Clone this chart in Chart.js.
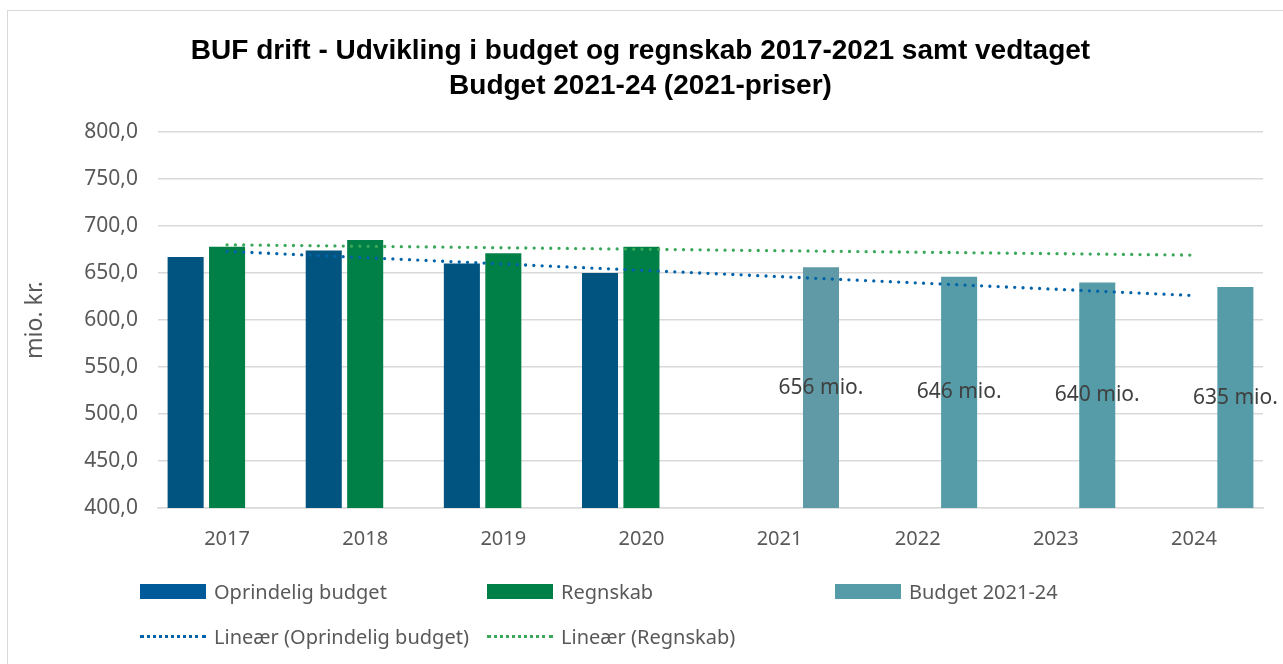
<!DOCTYPE html>
<html lang="da">
<head>
<meta charset="UTF-8">
<title>BUF drift</title>
<script src="https://cdn.jsdelivr.net/npm/chart.js"></script>
<style>
  body { margin: 0; background: #fff; font-family: "Noto Sans", sans-serif; }
  .wrap { position: relative; width: 1283px; height: 664px; overflow: hidden; }
  .ramme { position: absolute; left: 7px; top: 10px; width: 1300px; height: 700px; border: 1px solid #d9d9d9; }
  canvas { position: absolute; left: 0; top: 0; }
  .legend { position: absolute; left: 0; top: 0; font-size: 20px; color: #595959; }
  .item { position: absolute; display: flex; align-items: center; white-space: nowrap; }
  .box { width: 66px; height: 15px; margin-right: 8px; }
  .dots { width: 66px; height: 0; margin-right: 8px; border-top: 3px dotted; }
</style>
</head>
<body>
<div class="wrap">
  <div class="ramme"></div>
  <canvas id="graf" width="1283" height="664"></canvas>
  <div class="legend">
    <div class="item" style="left:140px; top:578px"><span class="box" style="background:#005a9a"></span>Oprindelig budget</div>
    <div class="item" style="left:487px; top:578px"><span class="box" style="background:#007f46"></span>Regnskab</div>
    <div class="item" style="left:835px; top:578px"><span class="box" style="background:#559ca8"></span>Budget 2021-24</div>
    <div class="item" style="left:140px; top:623px"><span class="dots" style="border-color:#0062a8"></span>Lineær (Oprindelig budget)</div>
    <div class="item" style="left:487px; top:623px"><span class="dots" style="border-color:#3aa85a"></span>Lineær (Regnskab)</div>
  </div>
</div>
<script>
const aar = ['2017', '2018', '2019', '2020', '2021', '2022', '2023', '2024'];
const oprindeligBudget = [667, 674, 660, 650, null, null, null, null];
const regnskab = [678, 685, 671, 678, null, null, null, null];
const budget2124 = [null, null, null, null, 656, 646, 640, 635];
// trendlinjer aflæst ved start og slut
const trendBudget = [673, null, null, null, null, null, null, 626];
const trendRegnskab = [680, null, null, null, null, null, null, 669];
const etiketter = ['', '', '', '', '656 mio.', '646 mio.', '640 mio.', '635 mio.'];

const tekstFarve = '#595959';
const font = 'Noto Sans';

// etiketter midt i søjlerne for budget 2021-24
const midtEtiket = {
  id: 'midtEtiket',
  afterDatasetsDraw(chart) {
    const ctx = chart.ctx;
    const meta = chart.getDatasetMeta(2);
    const bund = chart.scales.y.getPixelForValue(chart.scales.y.min);
    ctx.save();
    ctx.font = '21px "' + font + '"';
    ctx.fillStyle = '#404040';
    ctx.textAlign = 'center';
    ctx.textBaseline = 'middle';
    meta.data.forEach((el, i) => {
      if (budget2124[i] == null) return;
      ctx.fillText(etiketter[i], el.x, (el.y + bund) / 2);
    });
    ctx.restore();
  }
};

new Chart(document.getElementById('graf'), {
  type: 'bar',
  data: {
    labels: aar,
    datasets: [
      { label: 'Oprindelig budget', data: oprindeligBudget, backgroundColor: '#00547f', order: 1 },
      { label: 'Regnskab', data: regnskab, backgroundColor: '#007f46', order: 1 },
      { label: 'Budget 2021-24', data: budget2124,
        backgroundColor: ['#559ca8', '#559ca8', '#559ca8', '#559ca8', '#5f9aa6', '#559ca8', '#559ca8', '#559ca8'], order: 1 },
      { type: 'line', label: 'Lineær (Oprindelig budget)', data: trendBudget, borderColor: '#0062a8',
        borderWidth: 3.3, borderDash: [0, 8.3], borderCapStyle: 'round', pointRadius: 0, spanGaps: true, order: 0 },
      { type: 'line', label: 'Lineær (Regnskab)', data: trendRegnskab, borderColor: '#3aa85a',
        borderWidth: 3.3, borderDash: [0, 8.3], borderCapStyle: 'round', pointRadius: 0, spanGaps: true, order: 0 }
    ]
  },
  options: {
    responsive: false,
    animation: false,
    layout: { padding: { left: 18, right: 20, top: 0, bottom: 106 } },
    datasets: { bar: { categoryPercentage: 0.9, barPercentage: 0.87 } },
    scales: {
      x: {
        grid: { display: false },
        border: { display: true, color: '#d9d9d9', width: 1.5 },
        ticks: { color: tekstFarve, font: { family: font, size: 20 }, padding: 11 },
        afterFit(scale) { scale.height = 50; }
      },
      y: {
        min: 400, max: 800,
        ticks: { stepSize: 50, color: tekstFarve, font: { family: font, size: 21 }, padding: 20,
          callback: v => v.toFixed(1).replace('.', ',') },
        grid: { color: '#d9d9d9', lineWidth: 1.5, drawTicks: false },
        border: { display: false },
        title: { display: true, text: 'mio. kr.', color: tekstFarve, font: { family: font, size: 23 } },
        afterFit(scale) { scale.width = 140; }
      }
    },
    plugins: {
      legend: { display: false },
      tooltip: { enabled: false },
      title: {
        display: true,
        text: ['BUF drift - Udvikling i budget og regnskab 2017-2021 samt vedtaget', 'Budget 2021-24 (2021-priser)'],
        color: '#000',
        font: { family: 'Liberation Sans', size: 28, weight: 'bold', lineHeight: 1.25 },
        padding: { top: 34, bottom: 28 }
      }
    }
  },
  plugins: [midtEtiket]
});
</script>
</body>
</html>
